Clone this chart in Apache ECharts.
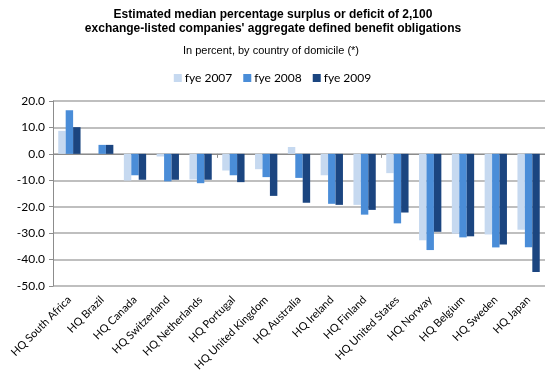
<!DOCTYPE html>
<html><head><meta charset="utf-8">
<script src="https://cdn.jsdelivr.net/npm/echarts@6/dist/echarts.min.js"></script>
<style>html,body{margin:0;padding:0;background:#fff}#c{width:545px;height:377px}</style>
</head><body><div id="c"></div>
<script>
const categories = ['HQ South Africa','HQ Brazil','HQ Canada','HQ Switzerland','HQ Netherlands','HQ Portugal','HQ United Kingdom','HQ Australia','HQ Ireland','HQ Finland','HQ United States','HQ Norway','HQ Belgium','HQ Sweden','HQ Japan'];
const fye2007 = [8.7, 0, -10.1, -1.0, -9.7, -6.3, -5.8, 2.6, -8.1, -19.3, -7.3, -32.7, -30.2, -30.5, -28.7];
const fye2008 = [16.5, 3.4, -8.1, -10.4, -11.1, -8.1, -8.8, -9.1, -18.9, -23.0, -26.3, -36.4, -31.6, -35.4, -35.3];
const fye2009 = [10.1, 3.4, -9.8, -9.8, -9.8, -10.7, -15.9, -18.5, -19.3, -21.2, -22.2, -29.5, -31.2, -34.3, -44.7];
const seriesNames = ['fye 2007','fye 2008','fye 2009'];
const colors = ['#c6d9f0','#4a8dd8','#1b4580'];

const chart = echarts.init(document.getElementById('c'));
const mk = (name, data, color) => ({
  name, type:'bar', data, xAxisIndex:0, barGap:'0%', barCategoryGap:'32%',
  itemStyle:{color}, animation:false
});
chart.setOption({
  animation:false,
  title:[
    {text:"Estimated median percentage surplus or deficit of 2,100\nexchange-listed companies' aggregate defined benefit obligations",
     left:268, top:3, textAlign:'center',
     textStyle:{fontFamily:'Liberation Sans, Arial', fontSize:12, fontWeight:'bold', color:'#000', lineHeight:14}},
    {text:'In percent, by country of domicile (*)', left:266, top:40, textAlign:'center',
     textStyle:{fontFamily:'Liberation Sans, Arial', fontSize:11, fontWeight:'normal', color:'#000'}}
  ],
  legend:{
    data:seriesNames, top:67, left:'center', itemWidth:8, itemHeight:8, itemGap:11, icon:'rect',
    textStyle:{fontFamily:'Lato', fontSize:12, color:'#000', padding:[0,0,0,-2]}
  },
  color:colors,
  grid:{left:53, right:0, top:101, bottom:91, containLabel:false},
  xAxis:[
    {type:'category', data:categories, position:'bottom',
     axisLine:{show:false, onZero:false}, axisTick:{show:false},
     axisLabel:{rotate:45, interval:0, fontFamily:'Lato', fontSize:11, color:'#000', margin:12}},
    {type:'category', data:categories, position:'bottom',
     axisLine:{show:true, onZero:true, lineStyle:{color:'#8c8c8c', width:1}},
     axisTick:{show:true, length:4, lineStyle:{color:'#8c8c8c'}},
     axisLabel:{show:false}}
  ],
  yAxis:{type:'value', min:-50, max:20, interval:10,
    axisLine:{show:true, lineStyle:{color:'#8c8c8c'}},
    axisTick:{show:true, length:4, lineStyle:{color:'#8c8c8c'}},
    splitLine:{show:true, lineStyle:{color:'#aaaaaa', width:1.5}},
    axisLabel:{formatter:v=>v.toFixed(1), fontFamily:'Lato', fontSize:12, color:'#000', margin:8}
  },
  series:[mk(seriesNames[0], fye2007, colors[0]), mk(seriesNames[1], fye2008, colors[1]), mk(seriesNames[2], fye2009, colors[2])]
});
</script></body></html>
